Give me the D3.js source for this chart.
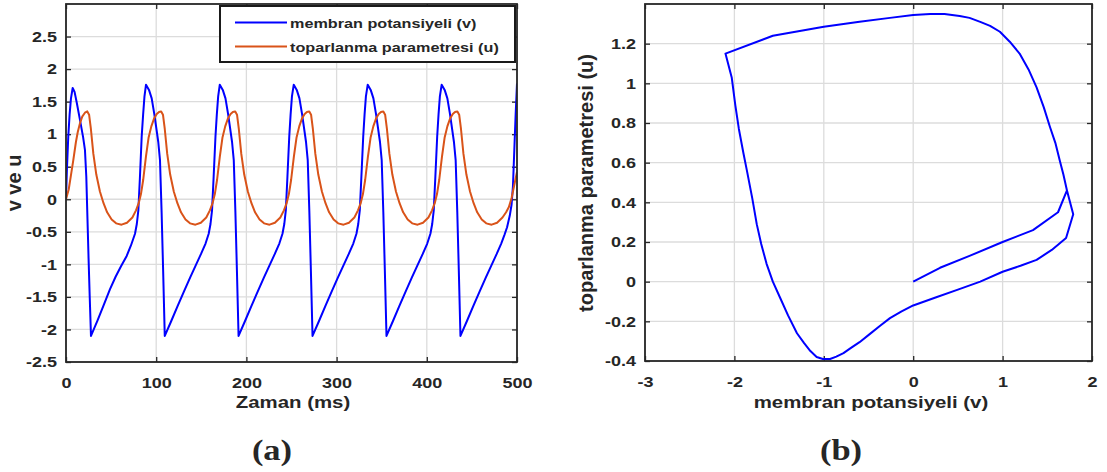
<!DOCTYPE html>
<html>
<head>
<meta charset="utf-8">
<script src="https://cdn.jsdelivr.net/npm/d3@7"></script>
<style>
  html, body { margin: 0; padding: 0; background: #fff; }
  svg { display: block; }
  text { font-family: "Liberation Sans", Arial, sans-serif; font-weight: bold; fill: #262626; }
</style>
</head>
<body>
<svg id="fig" width="1107" height="472"></svg>
<script>
// ---- data ----
// (a) membran potansiyeli v(t)
const vTime = [
  0, 1, 2.5, 4, 5.5, 7.4, 9.5, 12, 15.5, 19, 21, 22.5, 23.8, 25, 26.3, 27.7,
  35, 42, 48.8, 55, 61, 67.3, 72, 76.5, 78.5, 80.2, 82, 83.9, 85.5, 87, 88.7,
  92, 95, 98, 102.3, 104.2, 106, 107.7, 109.5,
  116.7, 123.7, 130.7, 137.7, 143.7, 149.7, 154.7, 158.2, 160.2, 161.9, 163.7, 165.7, 167.2, 168.7, 170.5,
  173.8, 176.8, 179.8, 184.1, 186, 187.8, 189.5, 191.3,
  198.5, 205.5, 212.5, 219.5, 225.5, 231.5, 236.5, 240, 242, 243.7, 245.5, 247.5, 249, 250.5, 252.5,
  255.8, 258.8, 261.8, 266.1, 268, 269.8, 271.5, 273.3,
  280.5, 287.5, 294.5, 301.5, 307.5, 313.5, 318.5, 322, 324, 325.7, 327.5, 329.5, 331, 332.5, 334.5,
  337.8, 340.8, 343.8, 348.1, 350, 351.8, 353.5, 355.3,
  362.5, 369.5, 376.5, 383.5, 389.5, 395.5, 400.5, 404, 406, 407.7, 409.5, 411.5, 413, 414.5, 416.5,
  419.8, 422.8, 425.8, 430.1, 432, 433.8, 435.5, 437.3,
  444.5, 451.5, 458.5, 465.5, 471.5, 477.5, 482.5, 486, 489, 492, 494, 495.5, 497, 498.5, 500
];
const vValues = [
  0, 0.45, 0.96, 1.3, 1.55, 1.71, 1.65, 1.48, 1.22, 0.95, 0.76, 0.35, -0.3, -0.9, -1.5, -2.1,
  -1.86, -1.62, -1.38, -1.19, -1.03, -0.87, -0.71, -0.53, -0.38, -0.17, 0.35, 0.96, 1.3, 1.58, 1.76,
  1.68, 1.55, 1.3, 0.88, 0.6, -0.2, -1.1, -2.1,
  -1.87, -1.64, -1.42, -1.2, -1.02, -0.84, -0.68, -0.53, -0.38, -0.17, 0.35, 0.96, 1.3, 1.58, 1.76,
  1.68, 1.55, 1.3, 0.88, 0.6, -0.2, -1.1, -2.1,
  -1.87, -1.64, -1.42, -1.2, -1.02, -0.84, -0.68, -0.53, -0.38, -0.17, 0.35, 0.96, 1.3, 1.58, 1.76,
  1.68, 1.55, 1.3, 0.88, 0.6, -0.2, -1.1, -2.1,
  -1.87, -1.64, -1.42, -1.2, -1.02, -0.84, -0.68, -0.53, -0.38, -0.17, 0.35, 0.96, 1.3, 1.58, 1.76,
  1.68, 1.55, 1.3, 0.88, 0.6, -0.2, -1.1, -2.1,
  -1.87, -1.64, -1.42, -1.2, -1.02, -0.84, -0.68, -0.53, -0.38, -0.17, 0.35, 0.96, 1.3, 1.58, 1.76,
  1.68, 1.55, 1.3, 0.88, 0.6, -0.2, -1.1, -2.1,
  -1.87, -1.64, -1.42, -1.2, -1.02, -0.84, -0.68, -0.55, -0.43, -0.25, -0.08, 0.2, 0.75, 1.3, 1.78
];

// (a) toparlanma parametresi u(t)
const uTime = [
  0, 3, 5.5, 8.1, 11, 13, 15.5, 18, 21, 23.6,
  25.6, 27.6, 30.3, 33.6, 37.6, 41.6, 45.6, 50.6, 55.6, 61.6, 67.6, 73.6, 77.6, 80.6, 83.1, 85.6, 88.6, 91.6, 94.6, 97.6, 100.6, 103.1, 105.5,
  107.5, 109.5, 112.2, 115.5, 119.5, 123.5, 127.5, 132.5, 137.5, 143.5, 149.5, 155.5, 159.5, 162.5, 165, 167.5, 170.5, 173.5, 176.5, 179.5, 182.5, 185, 187.6,
  189.6, 191.6, 194.3, 197.6, 201.6, 205.6, 209.6, 214.6, 219.6, 225.6, 231.6, 237.6, 241.6, 244.6, 247.1, 249.6, 252.6, 255.6, 258.6, 261.6, 264.6, 267.1, 269.7,
  271.7, 273.7, 276.4, 279.7, 283.7, 287.7, 291.7, 296.7, 301.7, 307.7, 313.7, 319.7, 323.7, 326.7, 329.2, 331.7, 334.7, 337.7, 340.7, 343.7, 346.7, 349.2, 351.8,
  353.8, 355.8, 358.5, 361.8, 365.8, 369.8, 373.8, 378.8, 383.8, 389.8, 395.8, 401.8, 405.8, 408.8, 411.3, 413.8, 416.8, 419.8, 422.8, 425.8, 428.8, 431.3, 433.9,
  435.9, 437.9, 440.6, 443.9, 447.9, 451.9, 455.9, 460.9, 465.9, 471.9, 477.9, 483.9, 487.9, 491, 494, 497, 500
];
const uValues = [
  0, 0.15, 0.37, 0.6, 0.88, 1.03, 1.17, 1.27, 1.33, 1.35,
  1.3, 1.08, 0.7, 0.38, 0.12, -0.06, -0.2, -0.31, -0.37, -0.39, -0.36, -0.28, -0.17, -0.06, 0.08, 0.3, 0.65, 0.95, 1.12, 1.24, 1.31, 1.34, 1.35,
  1.3, 1.08, 0.7, 0.38, 0.12, -0.06, -0.2, -0.31, -0.37, -0.39, -0.36, -0.28, -0.17, -0.06, 0.08, 0.3, 0.65, 0.95, 1.12, 1.24, 1.31, 1.34, 1.35,
  1.3, 1.08, 0.7, 0.38, 0.12, -0.06, -0.2, -0.31, -0.37, -0.39, -0.36, -0.28, -0.17, -0.06, 0.08, 0.3, 0.65, 0.95, 1.12, 1.24, 1.31, 1.34, 1.35,
  1.3, 1.08, 0.7, 0.38, 0.12, -0.06, -0.2, -0.31, -0.37, -0.39, -0.36, -0.28, -0.17, -0.06, 0.08, 0.3, 0.65, 0.95, 1.12, 1.24, 1.31, 1.34, 1.35,
  1.3, 1.08, 0.7, 0.38, 0.12, -0.06, -0.2, -0.31, -0.37, -0.39, -0.36, -0.28, -0.17, -0.06, 0.08, 0.3, 0.65, 0.95, 1.12, 1.24, 1.31, 1.34, 1.35,
  1.3, 1.08, 0.7, 0.38, 0.12, -0.06, -0.2, -0.31, -0.37, -0.39, -0.36, -0.28, -0.2, -0.12, 0.02, 0.22, 0.42
];

// (b) phase plane: u against v (start branch, then one loop of the cycle)
const phaseV = [
  0, 0.3, 0.63, 1.0, 1.34, 1.62, 1.72,
  1.68, 1.64, 1.59, 1.53, 1.46, 1.38, 1.29, 1.19, 1.08, 0.97, 0.86, 0.75, 0.63, 0.52, 0.35, 0.19, 0, -0.26, -0.6, -1.0, -1.57, -2.1,
  -2.03, -1.99, -1.95, -1.9, -1.86, -1.8, -1.75, -1.7, -1.64, -1.57, -1.49, -1.4, -1.3, -1.22, -1.15, -1.08, -1.01, -0.93,
  -0.86, -0.78, -0.7, -0.6, -0.48, -0.37, -0.26, -0.13, 0, 0.25, 0.5, 0.75, 1.0, 1.2, 1.38, 1.55, 1.71, 1.79, 1.72
];
const phaseU = [
  0, 0.07, 0.13, 0.2, 0.26, 0.35, 0.46,
  0.54, 0.61, 0.7, 0.78, 0.88, 0.98, 1.07, 1.15, 1.21, 1.26, 1.29, 1.31, 1.33, 1.34, 1.35, 1.35, 1.345, 1.33, 1.31, 1.285, 1.24, 1.15,
  1.03, 0.89, 0.77, 0.65, 0.56, 0.42, 0.29, 0.19, 0.09, 0, -0.08, -0.17, -0.26, -0.31, -0.35, -0.38, -0.39, -0.39,
  -0.378, -0.36, -0.335, -0.305, -0.262, -0.222, -0.184, -0.15, -0.12, -0.08, -0.04, 0, 0.05, 0.08, 0.11, 0.16, 0.22, 0.34, 0.46
];

const seriesNames = ["membran potansiyeli (v)", "toparlanma parametresi (u)"];
const seriesColors = ["#0000ff", "#d95319"];

const aXTicks = [0, 100, 200, 300, 400, 500];
const aYTicks = [-2.5, -2, -1.5, -1, -0.5, 0, 0.5, 1, 1.5, 2, 2.5];
const bXTicks = [-3, -2, -1, 0, 1, 2];
const bYTicks = [-0.4, -0.2, 0, 0.2, 0.4, 0.6, 0.8, 1, 1.2];

// ---- drawing ----
const svg = d3.select("#fig");
const STRETCH = "scale(1.2,1)";
const AXIS_COLOR = "#262626";
const GRID_COLOR = "#dcdcdc";

function panel(xs, ys, xTicks, yTicks) {
  const g = svg.append("g");
  const [x0, x1] = xs.range();
  const [y0, y1] = ys.range();

  // grid
  g.selectAll(".gx").data(xTicks).enter().append("line")
    .attr("x1", d => xs(d)).attr("x2", d => xs(d))
    .attr("y1", y0).attr("y2", y1)
    .attr("stroke", GRID_COLOR).attr("stroke-width", 1.3);
  g.selectAll(".gy").data(yTicks).enter().append("line")
    .attr("x1", x0).attr("x2", x1)
    .attr("y1", d => ys(d)).attr("y2", d => ys(d))
    .attr("stroke", GRID_COLOR).attr("stroke-width", 1.3);

  const fmt = d => String(d);
  const styleAxis = sel => {
    sel.select(".domain").remove();
    sel.selectAll(".tick line").attr("stroke", AXIS_COLOR).attr("stroke-width", 1.3);
    sel.selectAll(".tick text")
      .attr("transform", STRETCH)
      .style("font-size", "15px")
      .attr("fill", AXIS_COLOR);
  };

  g.append("g").attr("transform", `translate(0,${y0})`)
    .call(d3.axisBottom(xs).tickValues(xTicks).tickSizeInner(-5).tickSizeOuter(0).tickPadding(15).tickFormat(fmt))
    .call(styleAxis);
  g.append("g").attr("transform", `translate(0,${y1})`)
    .call(d3.axisTop(xs).tickValues(xTicks).tickSizeInner(-5).tickSizeOuter(0).tickFormat(""))
    .call(styleAxis);
  g.append("g").attr("transform", `translate(${x0},0)`)
    .call(d3.axisLeft(ys).tickValues(yTicks).tickSizeInner(-5).tickSizeOuter(0).tickPadding(7.5).tickFormat(fmt))
    .call(styleAxis);
  g.append("g").attr("transform", `translate(${x1},0)`)
    .call(d3.axisRight(ys).tickValues(yTicks).tickSizeInner(-5).tickSizeOuter(0).tickFormat(""))
    .call(styleAxis);

  return g;
}

function box(xs, ys) {
  const [x0, x1] = xs.range();
  const [y0, y1] = ys.range();
  svg.append("rect")
    .attr("x", x0).attr("y", y1)
    .attr("width", x1 - x0).attr("height", y0 - y1)
    .attr("fill", "none").attr("stroke", AXIS_COLOR).attr("stroke-width", 1.8);
}

function hLabel(x, y, str, size, anchor) {
  svg.append("text")
    .attr("transform", `translate(${x},${y}) ${STRETCH}`)
    .attr("text-anchor", anchor || "middle")
    .style("font-size", size + "px")
    .text(str);
}

function vLabel(x, y, str) {
  svg.append("text")
    .attr("transform", `translate(${x},${y}) rotate(-90)`)
    .attr("text-anchor", "middle")
    .style("font-size", "20px")
    .text(str);
}

// ---- panel (a) ----
const xA = d3.scaleLinear().domain([0, 500]).range([66, 517]);
const yA = d3.scaleLinear().domain([-2.5, 3]).range([362, 4]);
panel(xA, yA, aXTicks, aYTicks);

svg.append("clipPath").attr("id", "clipA").append("rect")
  .attr("x", 66).attr("y", 4).attr("width", 451).attr("height", 358);

const lineA = d3.line().x(d => xA(d[0])).y(d => yA(d[1]));
const vData = vTime.map((t, i) => [t, vValues[i]]);
const uData = uTime.map((t, i) => [t, uValues[i]]);

svg.append("path").datum(vData)
  .attr("d", lineA).attr("fill", "none")
  .attr("stroke", seriesColors[0]).attr("stroke-width", 2)
  .attr("stroke-linejoin", "round").attr("clip-path", "url(#clipA)");
svg.append("path").datum(uData)
  .attr("d", lineA).attr("fill", "none")
  .attr("stroke", seriesColors[1]).attr("stroke-width", 2)
  .attr("stroke-linejoin", "round").attr("clip-path", "url(#clipA)");
box(xA, yA);

// legend
const legend = svg.append("g");
legend.append("rect")
  .attr("x", 220).attr("y", 6).attr("width", 295).attr("height", 56)
  .attr("fill", "#fff").attr("stroke", "#1a1a1a").attr("stroke-width", 2);
seriesNames.forEach((name, i) => {
  const ly = 22.5 + i * 24;
  legend.append("line")
    .attr("x1", 235).attr("x2", 287).attr("y1", ly).attr("y2", ly)
    .attr("stroke", seriesColors[i]).attr("stroke-width", 2);
  legend.append("text")
    .attr("transform", `translate(290,${ly + 5.5}) ${STRETCH}`)
    .style("font-size", "13.5px")
    .attr("fill", "#000")
    .text(name);
});

hLabel(293, 408, "Zaman (ms)", 17);
vLabel(21, 183, "v ve u");

// ---- panel (b) ----
const xB = d3.scaleLinear().domain([-3, 2]).range([645, 1092]);
const yB = d3.scaleLinear().domain([-0.4, 1.4]).range([361, 4]);
panel(xB, yB, bXTicks, bYTicks);

const phaseData = phaseV.map((v, i) => [v, phaseU[i]]);
svg.append("path").datum(phaseData)
  .attr("d", d3.line().x(d => xB(d[0])).y(d => yB(d[1])))
  .attr("fill", "none")
  .attr("stroke", seriesColors[0]).attr("stroke-width", 2)
  .attr("stroke-linejoin", "round");
box(xB, yB);

hLabel(871, 408, "membran potansiyeli (v)", 17);
vLabel(593, 183, "toparlanma parametresi (u)");

// sub-figure captions
["(a)", "(b)"].forEach((cap, i) => {
  svg.append("text")
    .attr("transform", `translate(${[272, 841][i]},460) scale(1.15,1)`)
    .attr("text-anchor", "middle")
    .style("font-family", "'Liberation Serif', 'Times New Roman', serif")
    .style("font-size", "30px").attr("fill", "#000")
    .text(cap);
});
</script>
</body>
</html>
